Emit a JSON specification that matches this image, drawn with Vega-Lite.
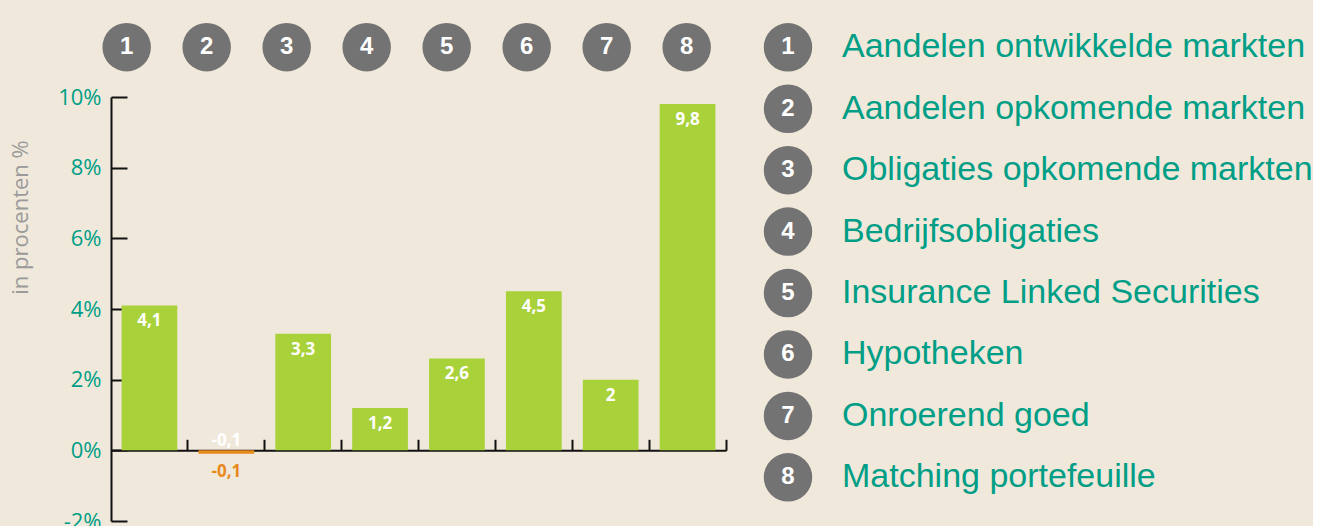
{
  "$schema": "https://vega.github.io/schema/vega-lite/v6.json",
  "background": "#F0E9DB",
  "padding": {"left": 8, "top": 22, "right": 0, "bottom": 0},
  "spacing": 36,
  "config": {
    "view": {"stroke": null},
    "locale": {"number": {"decimal": ",", "thousands": ".", "grouping": [3], "currency": ["€ ", ""], "minus": "-"}}
  },
  "hconcat": [
    {
      "width": 615,
      "height": 424,
      "data": {"values": [
        {"n": 1, "value": 4.1},
        {"n": 2, "value": -0.1},
        {"n": 3, "value": 3.3},
        {"n": 4, "value": 1.2},
        {"n": 5, "value": 2.6},
        {"n": 6, "value": 4.5},
        {"n": 7, "value": 2},
        {"n": 8, "value": 9.8}
      ]},
      "resolve": {"scale": {"x": "independent"}},
      "layer": [
        {
          "layer": [
            {
              "mark": {"type": "bar", "width": {"band": 0.725}},
              "encoding": {
                "x": {"field": "n", "type": "ordinal", "scale": {"paddingInner": 0, "paddingOuter": 0},
                  "axis": {"title": null, "labels": false, "grid": false, "domainColor": "#111111", "domainWidth": 2, "tickColor": "#111111", "tickWidth": 2, "tickSize": -11, "bandPosition": 1, "offset": -70.7}},
                "y": {"field": "value", "type": "quantitative", "scale": {"domain": [-2, 10], "nice": false, "zero": false},
                  "axis": {"values": [-2, 0, 2, 4, 6, 8, 10], "format": "d", "labelExpr": "datum.label + '%'", "grid": false,
                    "domainColor": "#111111", "domainWidth": 2, "tickColor": "#111111", "tickWidth": 2, "tickSize": -16,
                    "labelPadding": 26, "labelColor": "#009E86", "labelFont": "Open Sans", "labelFontSize": 22,
                    "title": "in procenten %", "titleColor": "#9A9A9A", "titleFont": "Open Sans", "titleFontSize": 22, "titleFontWeight": "normal",
                    "titleX": -84, "titleY": 120, "titleAngle": -90, "titleAlign": "center", "titleBaseline": "alphabetic"}},
                "color": {"condition": {"test": "datum.value < 0", "value": "#E8891C"}, "value": "#A9D13A"}
              }
            },
            {
              "transform": [{"filter": "datum.value >= 0"}],
              "mark": {"type": "text", "dy": 16, "baseline": "middle", "align": "center", "color": "#FFFFFF", "font": "Open Sans", "fontWeight": "bold", "fontSize": 17},
              "encoding": {
                "x": {"field": "n", "type": "ordinal"},
                "y": {"field": "value", "type": "quantitative"},
                "text": {"field": "value", "type": "quantitative", "format": "~g"}
              }
            },
            {
              "transform": [{"filter": "datum.value < 0"}],
              "mark": {"type": "text", "dy": -13, "baseline": "middle", "align": "center", "color": "#FFFFFF", "font": "Open Sans", "fontWeight": "bold", "fontSize": 17},
              "encoding": {
                "x": {"field": "n", "type": "ordinal"},
                "y": {"field": "value", "type": "quantitative"},
                "text": {"field": "value", "type": "quantitative", "format": "~g"}
              }
            },
            {
              "transform": [{"filter": "datum.value < 0"}],
              "mark": {"type": "text", "dy": 18, "baseline": "middle", "align": "center", "color": "#E8891C", "font": "Open Sans", "fontWeight": "bold", "fontSize": 17},
              "encoding": {
                "x": {"field": "n", "type": "ordinal"},
                "y": {"field": "value", "type": "quantitative"},
                "text": {"field": "value", "type": "quantitative", "format": "~g"}
              }
            }
          ]
        },
        {
          "layer": [
            {
              "mark": {"type": "point", "filled": true, "size": 2350, "color": "#737373", "opacity": 1},
              "encoding": {
                "x": {"field": "n", "type": "ordinal", "scale": {"type": "point", "padding": 0.34375, "align": 0.285}, "axis": null},
                "y": {"datum": 11.41, "type": "quantitative"}
              }
            },
            {
              "mark": {"type": "text", "baseline": "middle", "align": "center", "color": "#FFFFFF", "font": "Liberation Sans", "fontWeight": "bold", "fontSize": 24},
              "encoding": {
                "x": {"field": "n", "type": "ordinal", "axis": null},
                "y": {"datum": 11.41, "type": "quantitative"},
                "text": {"field": "n", "type": "nominal"}
              }
            }
          ]
        }
      ]
    },
    {
      "width": 500,
      "height": 424,
      "data": {"values": [
        {"n": 1, "name": "Aandelen ontwikkelde markten"},
        {"n": 2, "name": "Aandelen opkomende markten"},
        {"n": 3, "name": "Obligaties opkomende markten"},
        {"n": 4, "name": "Bedrijfsobligaties"},
        {"n": 5, "name": "Insurance Linked Securities"},
        {"n": 6, "name": "Hypotheken"},
        {"n": 7, "name": "Onroerend goed"},
        {"n": 8, "name": "Matching portefeuille"}
      ]},
      "layer": [
        {
          "mark": {"type": "point", "filled": true, "size": 2350, "color": "#737373", "opacity": 1},
          "encoding": {
            "y": {"field": "n", "type": "quantitative", "scale": {"domain": [1.809, 8.711], "reverse": true, "nice": false, "zero": false}, "axis": null},
            "x": {"datum": 0, "type": "quantitative", "scale": {"domain": [0, 1]}, "axis": null}
          }
        },
        {
          "mark": {"type": "text", "baseline": "middle", "align": "center", "color": "#FFFFFF", "font": "Liberation Sans", "fontWeight": "bold", "fontSize": 24},
          "encoding": {
            "y": {"field": "n", "type": "quantitative", "axis": null},
            "x": {"datum": 0, "type": "quantitative", "axis": null},
            "text": {"field": "n", "type": "nominal"}
          }
        },
        {
          "mark": {"type": "text", "baseline": "middle", "align": "left", "dx": 54, "color": "#009E86", "font": "Liberation Sans", "fontSize": 34},
          "encoding": {
            "y": {"field": "n", "type": "quantitative", "axis": null},
            "x": {"datum": 0, "type": "quantitative", "axis": null},
            "text": {"field": "name", "type": "nominal"}
          }
        }
      ]
    }
  ]
}
